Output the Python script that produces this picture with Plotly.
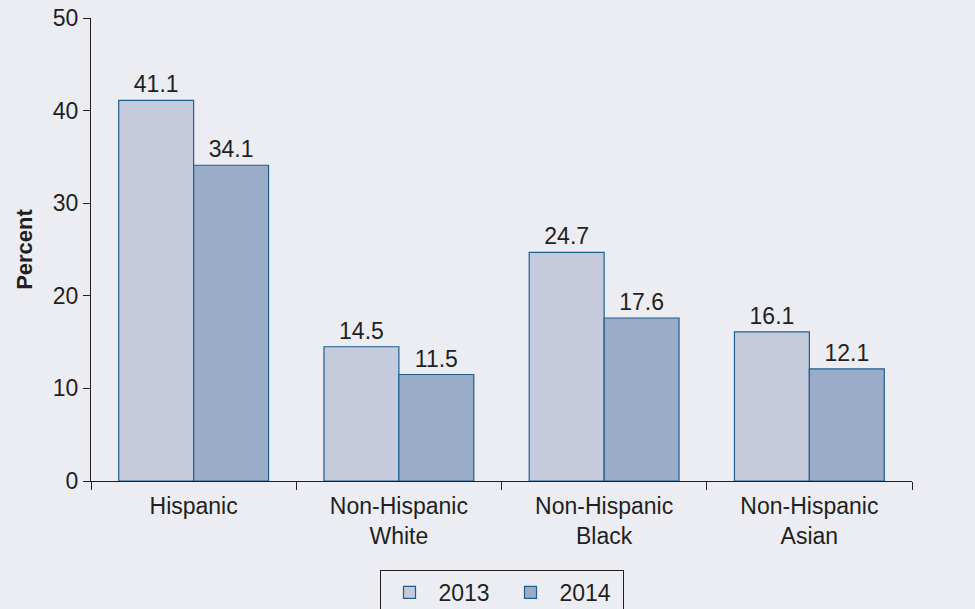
import plotly.graph_objects as go

categories = ["Hispanic", "Non-Hispanic<br>White", "Non-Hispanic<br>Black", "Non-Hispanic<br>Asian"]
values_2013 = [41.1, 14.5, 24.7, 16.1]
values_2014 = [34.1, 11.5, 17.6, 12.1]
y_ticks = [0, 10, 20, 30, 40, 50]

font_family = "Liberation Sans, Arial, Helvetica, sans-serif"
text_color = "#231F20"
edge = "#1E5F8E"
fs = 23

fig = go.Figure()
fig.add_trace(go.Bar(
    name="2013", x=categories, y=values_2013,
    marker=dict(color="#C5CBDD", line=dict(color=edge, width=1.2)),
    text=[f"{v:.1f}" for v in values_2013], textposition="outside",
    textfont=dict(size=fs, color=text_color, family=font_family),
    cliponaxis=False,
))
fig.add_trace(go.Bar(
    name="2014", x=categories, y=values_2014,
    marker=dict(color="#9AACC8", line=dict(color=edge, width=1.2)),
    text=[f"{v:.1f}" for v in values_2014], textposition="outside",
    textfont=dict(size=fs, color=text_color, family=font_family),
    cliponaxis=False,
))

fig.update_layout(
    width=975, height=609,
    margin=dict(l=91, r=63, t=18, b=128, autoexpand=False),
    paper_bgcolor="#ECEDF2", plot_bgcolor="#ECEDF2",
    barmode="group", bargap=0.27, bargroupgap=0,
    font=dict(family=font_family, size=fs, color=text_color),
    showlegend=True,
    legend=dict(
        orientation="h", x=0.5, xanchor="center",
        yref="container", y=0.064, yanchor="top",
        bordercolor=text_color, borderwidth=1, bgcolor="#ECEDF2",
        font=dict(size=fs, color=text_color), itemwidth=48,
        entrywidth=58, entrywidthmode="pixels",
        traceorder="normal",
    ),
)
fig.update_xaxes(
    range=[-0.5, 3.5], showline=True, linecolor=text_color, linewidth=1.2,
    ticks="outside", tickson="boundaries", ticklen=8, tickcolor=text_color,
    showgrid=False, zeroline=False, tickfont=dict(size=fs, color=text_color),
    automargin=False, ticklabelstandoff=4,
)
fig.update_yaxes(
    range=[0, 50], tickvals=y_ticks, showline=True, linecolor=text_color, linewidth=1.2,
    ticks="outside", ticklen=7, tickcolor=text_color, showgrid=False, zeroline=False,
    tickfont=dict(size=fs, color=text_color), automargin=False,
    title=dict(text="<b>Percent</b>", font=dict(size=22, color=text_color), standoff=14),
)

fig.write_html("out.html")
